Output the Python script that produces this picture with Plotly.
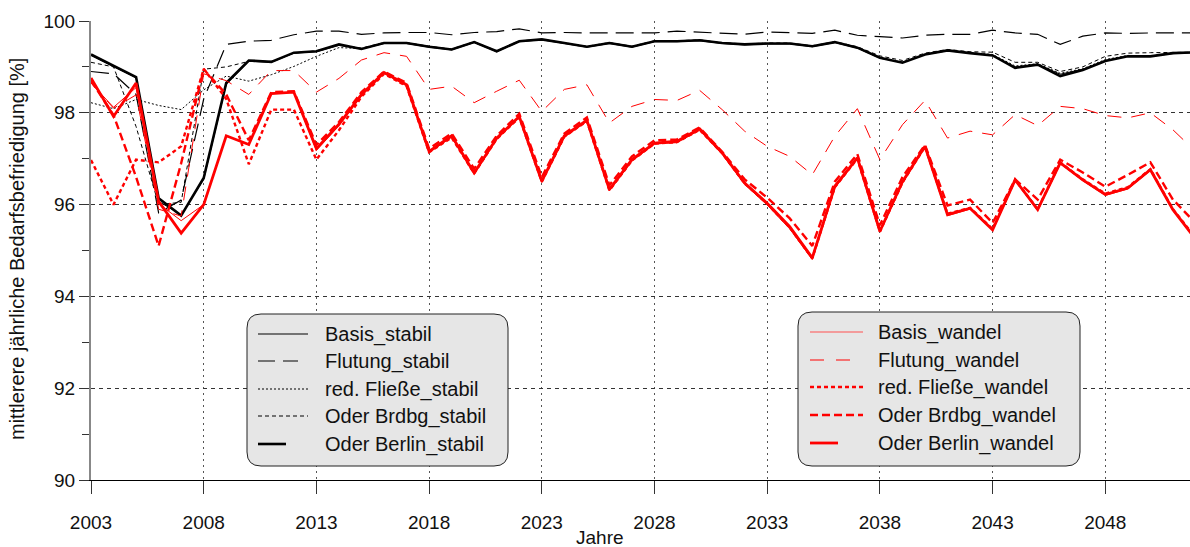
import plotly.graph_objects as go

years = list(range(2003, 2053))

basis_stabil = [99.25, 99.0, 98.76, 96.07, 95.78, 96.55, 98.62, 99.12, 99.1, 99.3, 99.33, 99.47, 99.39, 99.51, 99.51, 99.43, 99.37, 99.53, 99.33, 99.55, 99.59, 99.51, 99.43, 99.51, 99.43, 99.55,
                99.55, 99.57, 99.51, 99.48, 99.5, 99.5, 99.44, 99.53, 99.41, 99.19, 99.1, 99.27, 99.35, 99.3, 99.25, 99.0, 99.06, 98.84, 98.95, 99.14, 99.23, 99.23, 99.29, 99.31]
flutung_stabil = [98.9, 98.85, 98.4, 95.82, 96.1, 98.3, 99.49, 99.56, 99.58, 99.7, 99.78, 99.78, 99.71, 99.74, 99.75, 99.75, 99.7, 99.75, 99.77, 99.83, 99.74, 99.75, 99.74, 99.74, 99.74, 99.74,
                  99.78, 99.76, 99.74, 99.71, 99.76, 99.74, 99.73, 99.8, 99.69, 99.66, 99.63, 99.69, 99.71, 99.71, 99.8, 99.74, 99.71, 99.49, 99.67, 99.74, 99.73, 99.74, 99.74, 99.74]
redfliesse_stabil = [98.22, 98.09, 98.29, 98.16, 98.07, 98.5, 98.8, 98.69, 98.83, 99.01, 99.23, 99.42, 99.4, 99.52, 99.52, 99.44, 99.38, 99.54, 99.34, 99.56, 99.6, 99.52, 99.44, 99.52, 99.44, 99.56,
                     99.56, 99.58, 99.52, 99.49, 99.51, 99.51, 99.45, 99.54, 99.42, 99.21, 99.1, 99.27, 99.36, 99.31, 99.27, 99.02, 99.07, 98.86, 98.96, 99.16, 99.25, 99.24, 99.3, 99.32]
brdbg_stabil = [99.1, 99.0, 97.7, 96.0, 96.05, 98.95, 99.0, 99.12, 99.12, 99.3, 99.35, 99.48, 99.41, 99.53, 99.53, 99.45, 99.39, 99.55, 99.35, 99.57, 99.6, 99.53, 99.45, 99.53, 99.45, 99.57,
                99.57, 99.59, 99.53, 99.5, 99.52, 99.52, 99.46, 99.55, 99.44, 99.24, 99.14, 99.3, 99.38, 99.33, 99.32, 99.1, 99.1, 98.9, 99.0, 99.23, 99.3, 99.31, 99.31, 99.32]
berlin_stabil = [99.27, 99.02, 98.78, 96.14, 95.76, 96.58, 98.65, 99.14, 99.11, 99.31, 99.34, 99.49, 99.39, 99.52, 99.52, 99.44, 99.38, 99.54, 99.34, 99.56, 99.6, 99.52, 99.44, 99.52, 99.44, 99.56,
                 99.56, 99.58, 99.52, 99.49, 99.51, 99.51, 99.45, 99.54, 99.42, 99.2, 99.09, 99.27, 99.36, 99.3, 99.25, 98.98, 99.05, 98.8, 98.93, 99.13, 99.23, 99.23, 99.3, 99.32]

basis_wandel = [98.65, 98.12, 98.55, 96.02, 95.65, 96.0, 97.5, 97.3, 98.43, 98.44, 97.18, 97.72, 98.37, 98.86, 98.59, 97.13, 97.47, 96.66, 97.42, 97.9, 96.48, 97.47, 97.81, 96.3, 96.95, 97.32,
                97.35, 97.62, 97.1, 96.44, 95.99, 95.47, 94.8, 96.36, 96.99, 95.4, 96.46, 97.25, 95.76, 95.9, 95.44, 96.53, 95.87, 96.89, 96.52, 96.2, 96.34, 96.74, 95.87, 95.24]
flutung_wandel = [98.65, 98.1, 98.39, 95.9, 95.75, 98.85, 98.7, 98.4, 98.92, 98.92, 98.45, 98.75, 99.15, 99.31, 99.23, 98.51, 98.58, 98.22, 98.47, 98.71, 98.03, 98.51, 98.61, 97.78, 98.14, 98.29,
                  98.27, 98.49, 98.07, 97.6, 97.27, 97.05, 96.65, 97.49, 98.09, 96.98, 97.74, 98.27, 97.45, 97.6, 97.52, 97.96, 97.72, 98.14, 98.09, 97.94, 97.89, 98.0, 97.63, 97.16]
redfliesse_wandel = [96.97, 96.0, 96.98, 96.92, 97.27, 98.96, 98.3, 96.88, 98.07, 98.07, 96.98, 97.62, 98.35, 98.85, 98.58, 97.14, 97.46, 96.68, 97.43, 97.9, 96.5, 97.48, 97.82, 96.31, 96.96, 97.33,
                     97.36, 97.63, 97.12, 96.46, 96.02, 95.5, 94.83, 96.38, 97.0, 95.41, 96.48, 97.26, 95.8, 95.93, 95.47, 96.54, 95.9, 96.92, 96.55, 96.24, 96.38, 96.77, 95.9, 95.28]
brdbg_wandel = [98.7, 97.95, 96.6, 95.1, 96.9, 98.95, 98.4, 97.4, 98.45, 98.47, 97.3, 97.8, 98.45, 98.9, 98.65, 97.22, 97.55, 96.78, 97.5, 97.98, 96.6, 97.55, 97.9, 96.42, 97.05, 97.4,
                97.42, 97.68, 97.15, 96.55, 96.15, 95.7, 95.1, 96.5, 97.1, 95.55, 96.6, 97.3, 95.98, 96.11, 95.6, 96.55, 96.11, 96.98, 96.7, 96.39, 96.65, 96.92, 96.11, 95.6]
berlin_wandel = [98.76, 97.92, 98.65, 96.07, 95.38, 96.0, 97.5, 97.31, 98.42, 98.45, 97.22, 97.75, 98.4, 98.88, 98.61, 97.16, 97.5, 96.69, 97.45, 97.92, 96.51, 97.5, 97.84, 96.33, 96.98, 97.34,
                 97.38, 97.65, 97.13, 96.47, 96.03, 95.52, 94.84, 96.4, 97.02, 95.42, 96.5, 97.27, 95.78, 95.92, 95.45, 96.54, 95.89, 96.91, 96.54, 96.22, 96.36, 96.76, 95.89, 95.25]

legend_stabil = ["Basis_stabil", "Flutung_stabil", "red. Fließe_stabil", "Oder Brdbg_stabil", "Oder Berlin_stabil"]
legend_wandel = ["Basis_wandel", "Flutung_wandel", "red. Fließe_wandel", "Oder Brdbg_wandel", "Oder Berlin_wandel"]

x_ticks = list(range(2003, 2049, 5))
y_title = "mittlerere jährliche Bedarfsbefriedigung [%]"
x_title = "Jahre"

RED = "#ff0000"
BLK = "#000000"
styles_stabil = [
    dict(color=BLK, width=1, dash="solid"),
    dict(color=BLK, width=1.2, dash="18px,8px"),
    dict(color=BLK, width=1, dash="2px,2px"),
    dict(color=BLK, width=1, dash="4px,3px"),
    dict(color=BLK, width=2.6, dash="solid"),
]
styles_wandel = [
    dict(color=RED, width=1, dash="solid"),
    dict(color=RED, width=1, dash="14px,10px"),
    dict(color=RED, width=2.4, dash="4px,3px"),
    dict(color=RED, width=2.4, dash="8px,4px"),
    dict(color=RED, width=2.8, dash="solid"),
]

fig = go.Figure()
for name, ys, st in zip(legend_stabil, [basis_stabil, flutung_stabil, redfliesse_stabil, brdbg_stabil, berlin_stabil], styles_stabil):
    fig.add_trace(go.Scatter(x=years, y=ys, mode="lines", name=name, line=st, showlegend=False))
for name, ys, st in zip(legend_wandel, [basis_wandel, flutung_wandel, redfliesse_wandel, brdbg_wandel, berlin_wandel], styles_wandel):
    fig.add_trace(go.Scatter(x=years, y=ys, mode="lines", name=name, line=st, showlegend=False))

# plot area geometry (pixels)
W, H = 1190, 547
L, T, R, B = 91, 21, 0, 67
PW, PH = W - L - R, H - T - B
x_end = 2003 + PW / 22.54

def X(px):
    return (px - L) / PW

def Y(py):
    return (H - B - py) / PH

def rrect(x0, y0, x1, y1, r):
    rx, ry = r / PW, r / PH
    a0, a1 = X(x0), X(x1)
    b0, b1 = Y(y1), Y(y0)
    return (f"M {a0+rx},{b1} L {a1-rx},{b1} Q {a1},{b1} {a1},{b1-ry} "
            f"L {a1},{b0+ry} Q {a1},{b0} {a1-rx},{b0} L {a0+rx},{b0} "
            f"Q {a0},{b0} {a0},{b0+ry} L {a0},{b1-ry} Q {a0},{b1} {a0+rx},{b1} Z")

shapes = []
annotations = []
FONT = "Liberation Sans, Arial, sans-serif"

def add_legend(box, sx0, sample_ends, tx, rows, names, styles, sample_dashes):
    shapes.append(dict(type="path", xref="paper", yref="paper", path=rrect(*box, 14),
                       fillcolor="#e6e6e6", line=dict(color="#222222", width=1), layer="above"))
    for i, (nm, st, ry) in enumerate(zip(names, styles, rows)):
        lc = st["color"]
        if i == 0 and lc == RED:
            lc = "#ff5050"
        shapes.append(dict(type="line", xref="paper", yref="paper", x0=X(sx0), x1=X(sample_ends[i]), y0=Y(ry), y1=Y(ry),
                           line=dict(color=lc, width=st["width"], dash=sample_dashes[i]), layer="above"))
        annotations.append(dict(x=X(tx), y=Y(ry), xref="paper", yref="paper", text=nm, showarrow=False,
                                xanchor="left", yanchor="middle", font=dict(family=FONT, size=20, color="#111111")))

add_legend((247, 314, 508, 466), 258, [308, 298, 308, 308, 286], 323, [334, 361, 389, 416, 444],
           legend_stabil, styles_stabil, ["solid", "17px,8px", "2px,2px", "4px,3px", "solid"])
add_legend((798, 312, 1080, 466), 810, [863, 851, 863, 863, 838], 876, [332, 360, 387, 415, 443],
           legend_wandel, styles_wandel, ["solid", "14px,12px", "4px,3px", "8px,4px", "solid"])

annotations.append(dict(x=X(600), y=Y(537), xref="paper", yref="paper", text=x_title, showarrow=False,
                        xanchor="center", yanchor="middle", font=dict(family=FONT, size=19, color="#111111")))
annotations.append(dict(x=X(17), y=Y(249), xref="paper", yref="paper", text=y_title, showarrow=False, textangle=-90,
                        xanchor="center", yanchor="middle", font=dict(family=FONT, size=20, color="#111111")))

fig.update_layout(
    width=W, height=H,
    margin=dict(l=L, r=R, t=T, b=B, pad=0),
    paper_bgcolor="white", plot_bgcolor="white",
    font=dict(family=FONT, size=19, color="#111111"),
    shapes=shapes, annotations=annotations,
    showlegend=False,
    xaxis=dict(range=[2003, x_end], tickmode="array", tickvals=x_ticks, ticks="outside", ticklen=13,
               tickcolor="#333", showline=True, linecolor="#000", linewidth=1,
               showgrid=True, gridcolor="#555555", gridwidth=1, griddash="2px,4px",
               zeroline=False, ticklabelstandoff=12, automargin=False),
    yaxis=dict(range=[90, 100], tickmode="linear", tick0=90, dtick=2, ticks="outside", ticklen=10,
               tickcolor="#333", showline=True, linecolor="#888888", linewidth=2,
               showgrid=True, gridcolor="#333333", gridwidth=1, griddash="4px,4px",
               zeroline=False, automargin=False,
               minor=dict(dtick=1, ticks="outside", ticklen=7, tickcolor="#333", showgrid=False)),
)

fig.write_html("out.html", config={"displayModeBar": False, "staticPlot": True},
               post_script="document.body.style.margin='0';document.body.style.overflow='hidden';")
